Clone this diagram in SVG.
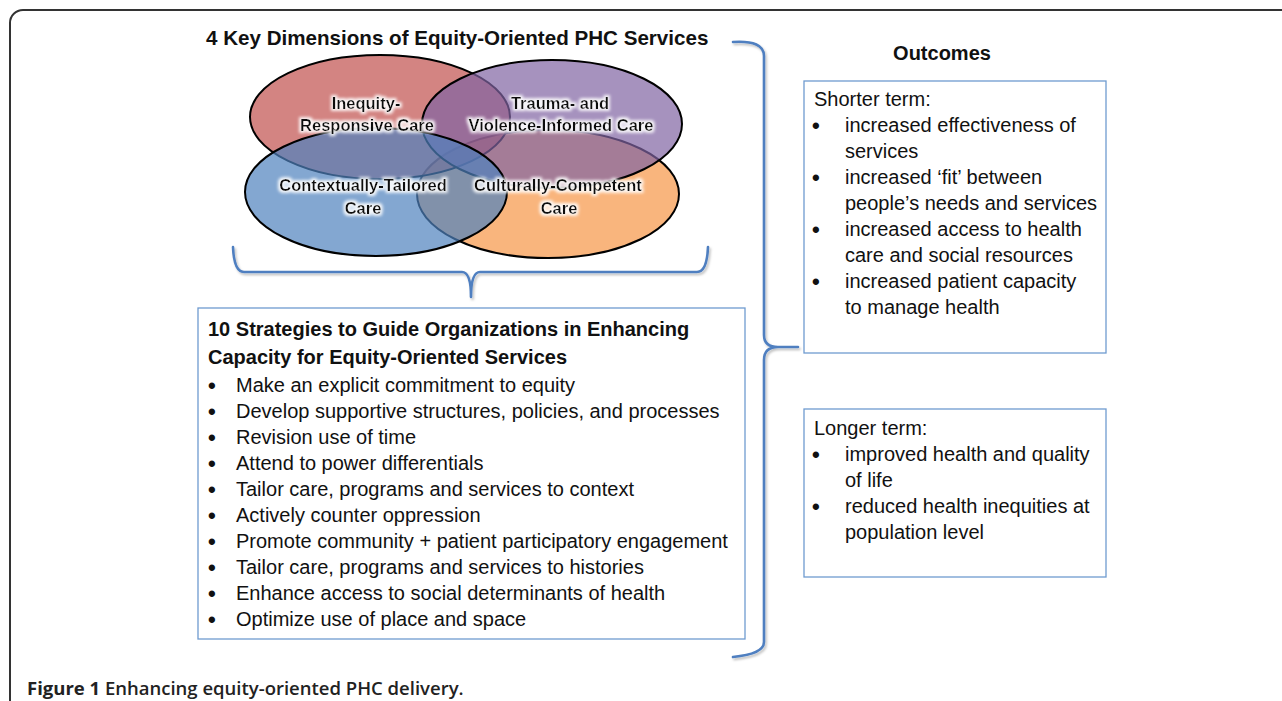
<svg xmlns="http://www.w3.org/2000/svg" width="1282" height="701" viewBox="0 0 1282 701">
<style>
.t{font-family:"Liberation Sans",Arial,Helvetica,sans-serif;fill:#111;}
.b{font-weight:bold;}
.body{font-size:20px;}
.bu{font-family:"Liberation Sans",Arial,sans-serif;font-size:22px;font-weight:bold;fill:#111;}
.lbl{font-family:"Liberation Sans",Arial,sans-serif;font-size:16.5px;font-weight:bold;text-anchor:middle;fill:#111;}
.box{fill:#fff;stroke:#6f9bd0;stroke-width:1.3;}
.ell{stroke:#000;stroke-width:2;fill-opacity:0.7;}
.brace{fill:none;stroke:#4f7fc0;stroke-width:2.6;stroke-linecap:round;stroke-linejoin:round;}
.cap{font-family:"Open Sans","Liberation Sans",sans-serif;font-size:18.5px;fill:#222;}
</style>
<defs>
<filter id="glow" x="-10%" y="-40%" width="120%" height="180%">
<feMorphology in="SourceAlpha" operator="dilate" radius="1.6" result="d"/>
<feGaussianBlur in="d" stdDeviation="1.4" result="bl"/>
<feFlood flood-color="#ffffff" flood-opacity="0.9"/>
<feComposite in2="bl" operator="in" result="g"/>
<feMerge><feMergeNode in="g"/><feMergeNode in="SourceGraphic"/></feMerge>
</filter>
<filter id="shadow" x="-20%" y="-5%" width="140%" height="110%">
<feDropShadow dx="1.5" dy="2" stdDeviation="1.2" flood-color="#000" flood-opacity="0.25"/>
</filter>
</defs>
<rect width="1282" height="701" fill="#fff"/>
<path d="M10,701 L10,23 A13,13 0 0 1 23,10 L1282,10" fill="none" stroke="#333" stroke-width="2"/>

<g id="title">
<text class="t b" x="206" y="45" font-size="20.6">4 Key Dimensions of Equity-Oriented PHC Services</text>
</g>

<g id="node-culturally"><ellipse class="ell" cx="548" cy="194" rx="131" ry="64" fill="#F79646"/></g>
<g id="node-inequity"><ellipse class="ell" cx="380" cy="117" rx="130" ry="62" fill="#C0504D"/></g>
<g id="node-trauma"><ellipse class="ell" cx="552" cy="124" rx="130" ry="64" fill="#8064A2"/></g>
<g id="node-contextually"><ellipse class="ell" cx="376" cy="192" rx="131" ry="64" fill="#4F81BD"/></g>

<g id="venn-labels" filter="url(#glow)">
<text class="lbl" x="366" y="108.5">Inequity-</text>
<text class="lbl" x="367" y="131">Responsive Care</text>
<text class="lbl" x="560" y="108.5">Trauma- and</text>
<text class="lbl" x="561" y="131">Violence-Informed Care</text>
<text class="lbl" x="363" y="191">Contextually-Tailored</text>
<text class="lbl" x="363" y="213.5">Care</text>
<text class="lbl" x="558" y="191">Culturally-Competent</text>
<text class="lbl" x="559" y="213.5">Care</text>
</g>

<g id="strategies">
<rect class="box" x="198" y="308" width="547" height="331"/>
<text class="t b body" x="208" y="336">10 Strategies to Guide Organizations in Enhancing</text>
<text class="t b body" x="208" y="364">Capacity for Equity-Oriented Services</text>
<g class="bu">
<text x="208" y="393">•</text><text x="208" y="419">•</text><text x="208" y="445">•</text><text x="208" y="471">•</text><text x="208" y="497">•</text>
<text x="208" y="523">•</text><text x="208" y="549">•</text><text x="208" y="575">•</text><text x="208" y="601">•</text><text x="208" y="627">•</text>
</g>
<g class="t body">
<text x="236" y="392">Make an explicit commitment to equity</text>
<text x="236" y="418">Develop supportive structures, policies, and processes</text>
<text x="236" y="444">Revision use of time</text>
<text x="236" y="470">Attend to power differentials</text>
<text x="236" y="496">Tailor care, programs and services to context</text>
<text x="236" y="522">Actively counter oppression</text>
<text x="236" y="548">Promote community + patient participatory engagement</text>
<text x="236" y="574">Tailor care, programs and services to histories</text>
<text x="236" y="600">Enhance access to social determinants of health</text>
<text x="236" y="626">Optimize use of place and space</text>
</g>
</g>

<g id="outcomes-title">
<text class="t b" x="942" y="60" font-size="20" text-anchor="middle">Outcomes</text>
</g>

<g id="shorter-term">
<rect class="box" x="804" y="81" width="302" height="272"/>
<g class="bu">
<text x="812" y="133">•</text><text x="812" y="185">•</text><text x="812" y="237">•</text><text x="812" y="289">•</text>
</g>
<g class="t body">
<text x="814" y="106">Shorter term:</text>
<text x="845" y="132">increased effectiveness of</text>
<text x="845" y="158">services</text>
<text x="845" y="184">increased ‘fit’ between</text>
<text x="845" y="210">people’s needs and services</text>
<text x="845" y="236">increased access to health</text>
<text x="845" y="262">care and social resources</text>
<text x="845" y="288">increased patient capacity</text>
<text x="845" y="314">to manage health</text>
</g>
</g>

<g id="longer-term">
<rect class="box" x="804" y="409" width="302" height="168"/>
<g class="bu">
<text x="812" y="462">•</text><text x="812" y="514">•</text>
</g>
<g class="t body">
<text x="814" y="435">Longer term:</text>
<text x="845" y="461">improved health and quality</text>
<text x="845" y="487">of life</text>
<text x="845" y="513">reduced health inequities at</text>
<text x="845" y="539">population level</text>
</g>
</g>

<g id="connectors" filter="url(#shadow)">
<path class="brace" d="M233,247 Q234,272 244,272 L462,272 Q471,272 471,297 Q471,272 480,272 L697,272 Q707,272 708,247"/>
<path class="brace" d="M733,42 Q764,40 764,56 L764,335 Q764,347 778,347 L798,347 M778,347 Q764,347 764,360 L764,642 Q764,654 733,657"/>
</g>

<g id="caption">
<text class="cap" x="27" y="695"><tspan font-weight="700">Figure 1</tspan><tspan font-weight="600"> Enhancing equity-oriented PHC delivery.</tspan></text>
</g>
</svg>
